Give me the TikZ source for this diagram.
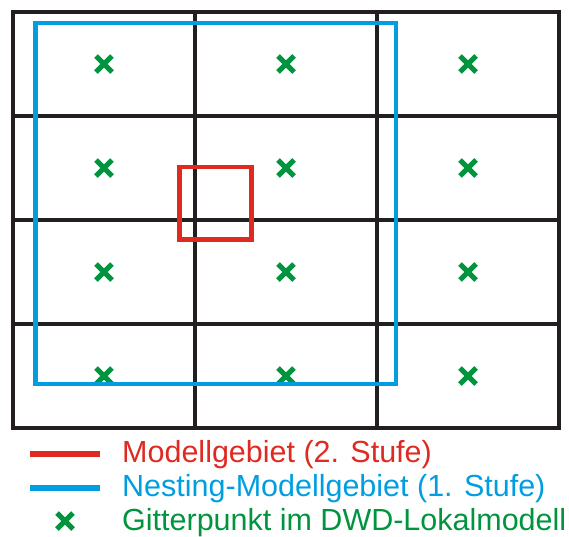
\documentclass[tikz,border=0pt]{standalone}
\usepackage{fontspec}
\setmainfont{Liberation Sans}
\definecolor{gitterschwarz}{HTML}{231F20}
\definecolor{nestblau}{HTML}{009EE0}
\definecolor{modellrot}{HTML}{DF2A22}
\definecolor{punktgruen}{HTML}{00943F}
\tikzset{
 gpunkt/.style={punktgruen, line width=5},
 legtext/.style={anchor=base west, inner sep=0, font=\fontsize{30.5}{34}\selectfont}
}

\begin{document}
\begin{tikzpicture} [x=1pt,y=-1pt]
\useasboundingbox (0,0) rectangle (569,536);
% Gitterpunkte
\foreach \x in  {104,286,468} {
 \foreach \y in {64,168,272,376} {
  \draw[gpunkt] (\x-8,\y-8) --++(16,16) (\x-8,\y+8) --++(16,-16);
 }
}
% DWD-Gitter
\draw[gitterschwarz, line width=4.5] (13,12) rectangle (559,428);
\foreach \x in {195,377} {
 \draw[gitterschwarz, line width=4.5] (\x,12) --++(0,416);
}
\foreach \y in {116,220,324} {
 \draw[gitterschwarz, line width=4.5] (13,\y) --++(546,0);
}
% Modellgebiete
\draw[nestblau, line width=4.8] (35.5,23) rectangle (396,384);
\draw[modellrot, line width=4.8] (179.5,167) rectangle (251.5,239.5);
% Legende
\node[legtext, modellrot] (rot) at (122,462) {Modellgebiet (2. Stufe)};
\node[legtext, nestblau] (blau) at (122,496) {Nesting-Modellgebiet (1. Stufe)};
\node[legtext, punktgruen] (gruen) at (122,530) {Gitterpunkt im DWD-Lokalmodell};
\draw[modellrot, line width=6] (30,453.5) --++(70,0);
\draw[nestblau, line width=6] (30,487.5) --++(70,0);
\draw[gpunkt] (57,513) --++(16,16) (57,529) --++(16,-16);
\end{tikzpicture}
\end{document}
